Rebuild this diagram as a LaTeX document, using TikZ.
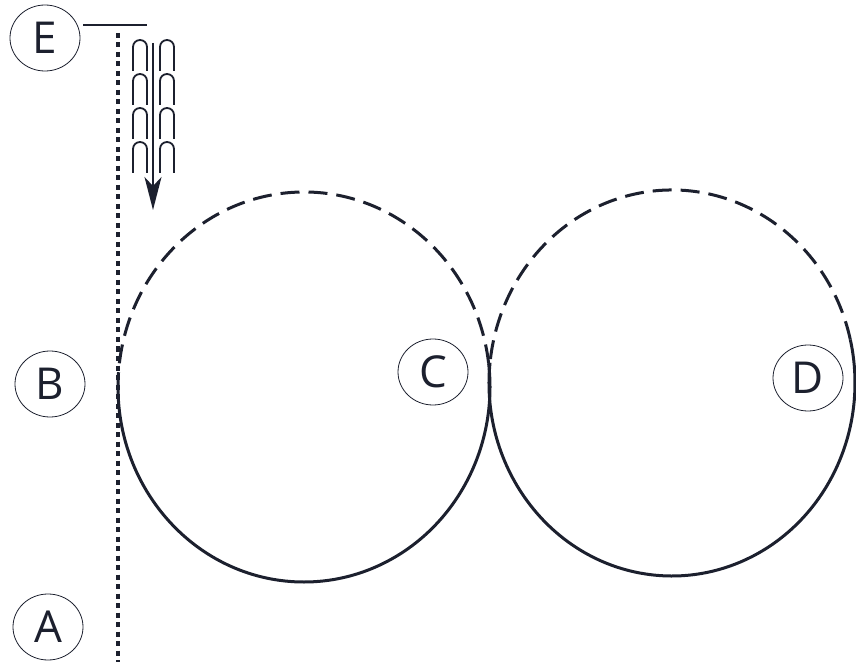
\documentclass[tikz,border=0pt]{standalone}
\usepackage{fontspec}
\setmainfont{Open Sans}
\usetikzlibrary{shapes.geometric,arrows.meta}
\definecolor{ink}{RGB}{28,32,46}
\begin{document}
\begin{tikzpicture}[x=1pt,y=1pt,
  lbl/.style={draw=ink,ellipse,minimum width=70pt,minimum height=66pt,inner sep=0pt,line width=0.8pt,text=ink,font=\fontsize{44}{44}\selectfont},
  dashedc/.style={draw=ink,line width=3pt,dash pattern=on 19pt off 9pt},
  solidc/.style={draw=ink,line width=3pt},
  dotline/.style={draw=ink,line width=3.5pt,dash pattern=on 5pt off 4.5pt},
  arch/.style={draw=ink,line width=1.8pt},
  flow/.style={draw=ink,line width=1.8pt,-{Stealth[length=33pt,width=17pt,inset=9pt]}}]
\useasboundingbox (0,0) rectangle (856,662);
% labels
\node[lbl] (E) at (45,624) {E};
\node[lbl] (B) at (50,278) {B};
\node[lbl] (C) at (433,290) {C};
\node[lbl] (D) at (808,284) {D};
\node[lbl] (A) at (48,35) {A};
% E line
\coordinate (eS) at (83,637);
\coordinate (eT) at (147,637);
\draw[ink,line width=2.5pt] (eS) -- (eT);
% dotted vertical
\coordinate (vT) at (118,629);
\coordinate (vB) at (118,0);
\draw[dotline] (vT) -- (vB);
% circles
\coordinate (lc) at (304,275);
\coordinate (rc) at (672,279);
\draw[dashedc] (lc) ++(7:186 and 195) arc[start angle=7,end angle=180,x radius=186,y radius=195];
\draw[solidc] (lc) ++(180:186 and 195) arc[start angle=180,end angle=367,x radius=186,y radius=195];
\draw[dashedc] (rc) ++(13:183 and 193) arc[start angle=13,end angle=174,x radius=183,y radius=193];
\draw[solidc] (rc) ++(174:183 and 193) arc[start angle=174,end angle=373,x radius=183,y radius=193];
% arches
\foreach \t in {40,74,108,142}{
  \foreach \xa in {133,160}{
    \draw[arch] (\xa,{662-\t-31}) -- (\xa,{662-\t-7}) arc[start angle=180,end angle=0,radius=7] -- ({\xa+14},{662-\t-31});
  }
}
% arrow
\coordinate (aS) at (153,619);
\coordinate (aT) at (153,452);
\draw[flow] (aS) -- (aT);
\end{tikzpicture}
\end{document}
